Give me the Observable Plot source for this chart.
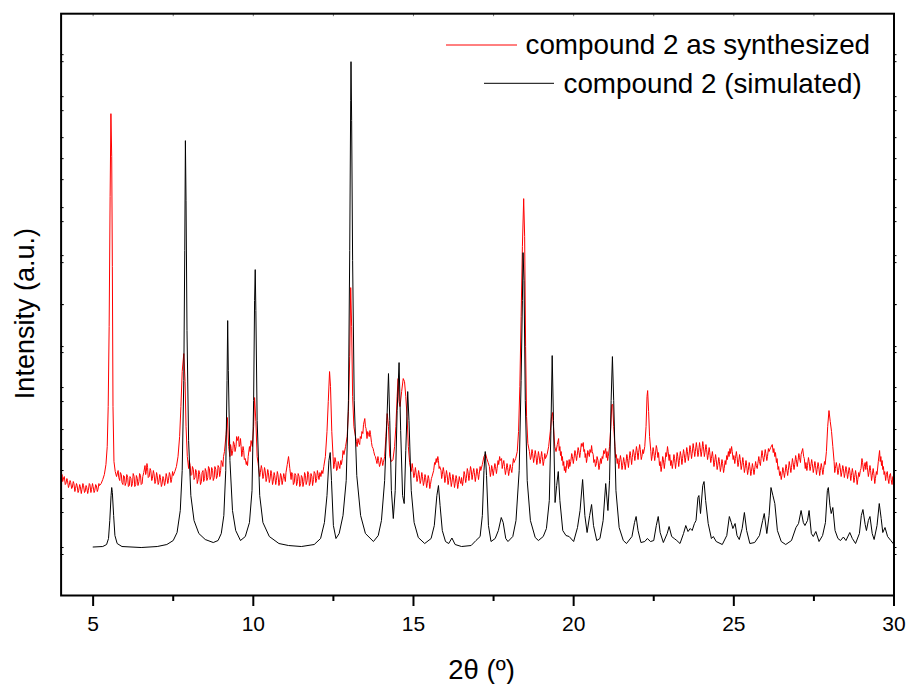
<!DOCTYPE html>
<html><head><meta charset="utf-8">
<script src="https://cdn.jsdelivr.net/npm/d3@7"></script>
<script src="https://cdn.jsdelivr.net/npm/@observablehq/plot@0.6"></script>
<style>body{margin:0;background:#fff}#chart{width:909px;height:684px}</style>
</head><body><div id="chart"></div>
<script>
const xMajorTicks = [5, 10, 15, 20, 25, 30];
const xMinorTicks = [7.5, 12.5, 17.5, 22.5, 27.5];
const yTicksExp = [42, 84, 126, 167, 209, 250, 292, 334, 375, 417, 459, 500, 542];
const yTicksSim = [49, 98, 147, 195, 244, 292, 341, 389, 438, 486, 535];
const seriesNames = ["compound 2 as synthesized", "compound 2 (simulated)"];
const seriesColors = ["#ff0000", "#000000"];
const xLabel = "2θ (º)";
const yLabel = "Intensity (a.u.)";

// experimental pattern: [2θ, intensity]
const expData = [
[4.00,118],[4.03,122],[4.05,115],[4.08,119],[4.10,120],[4.13,112],[4.15,113],[4.18,118],[4.20,116],[4.23,109],[4.25,111],[4.28,116],[4.30,114],[4.33,108],[4.35,109],[4.38,115],[4.40,113],[4.43,105],[4.45,108],[4.48,113],
[4.50,111],[4.53,104],[4.55,106],[4.58,112],[4.60,110],[4.63,103],[4.65,107],[4.68,113],[4.70,111],[4.73,104],[4.75,105],[4.78,111],[4.80,109],[4.83,103],[4.85,106],[4.88,113],[4.90,112],[4.93,104],[4.95,107],[4.98,113],
[5.00,110],[5.03,104],[5.05,106],[5.08,112],[5.10,111],[5.13,105],[5.15,107],[5.18,113],[5.20,111],[5.25,113],[5.30,117],[5.35,122],[5.40,132],[5.44,150],
[5.47,190],[5.50,270],[5.53,400],[5.555,483],[5.58,440],[5.60,330],[5.62,190],[5.65,135],[5.69,125],[5.73,120],
[5.78,126],[5.80,119],[5.83,116],[5.85,124],[5.88,122],[5.90,114],[5.93,112],[5.95,121],[5.98,120],[6.00,111],[6.03,114],[6.05,122],[6.08,119],[6.10,110],[6.13,111],[6.15,120],[6.18,118],[6.20,110],[6.23,113],
[6.25,123],[6.28,120],[6.30,110],[6.33,112],[6.35,121],[6.38,118],[6.40,111],[6.43,115],[6.45,123],[6.48,121],[6.50,112],[6.53,113],[6.55,120],[6.58,124],[6.62,131],[6.64,122],[6.66,125],[6.68,133],[6.70,129],
[6.72,119],[6.75,120],[6.78,128],[6.80,126],[6.83,116],[6.85,118],[6.88,126],[6.90,123],[6.93,113],[6.95,115],[6.98,124],[7.00,121],[7.03,112],[7.05,114],[7.08,122],[7.10,119],[7.13,110],[7.15,112],[7.18,120],[7.20,118],
[7.23,111],[7.25,114],[7.28,123],[7.30,120],[7.33,113],[7.35,116],[7.38,124],[7.40,122],[7.43,114],[7.45,117],[7.48,125],[7.50,121],[7.55,125],[7.60,130],[7.65,140],[7.70,160],
[7.74,190],[7.78,225],[7.83,243],[7.87,215],[7.90,170],[7.94,140],[7.98,128],[8.00,136],[8.03,131],[8.05,121],[8.08,122],[8.10,130],[8.13,127],
[8.15,117],[8.18,119],[8.20,127],[8.23,124],[8.25,113],[8.28,117],[8.30,126],[8.33,122],[8.35,112],[8.38,115],[8.40,124],[8.43,126],[8.45,115],[8.48,118],[8.50,128],[8.53,125],[8.55,116],[8.58,119],[8.60,130],[8.63,128],
[8.65,117],[8.68,120],[8.70,129],[8.73,126],[8.75,116],[8.78,119],[8.80,130],[8.83,127],[8.85,118],[8.88,121],[8.90,131],[8.93,129],[8.95,120],[8.98,126],[9.00,136],[9.03,134],[9.05,130],[9.07,140],[9.10,145],
[9.15,162],[9.19,179],[9.23,150],[9.27,140],[9.29,152],[9.31,148],[9.33,141],[9.36,146],[9.38,155],[9.41,152],[9.43,145],[9.46,150],[9.48,160],[9.50,156],[9.54,160],
[9.56,150],[9.58,152],[9.60,158],[9.62,150],[9.64,140],[9.66,144],[9.68,150],[9.70,146],[9.72,137],[9.75,138],[9.78,132],[9.80,135],[9.82,131],[9.84,140],[9.88,150],[9.90,145],[9.93,156],[9.97,150],
[10.01,170],[10.04,199],[10.08,175],[10.12,140],[10.15,133],[10.17,128],[10.20,120],[10.22,124],[10.25,131],[10.27,128],[10.30,118],[10.32,120],[10.35,129],[10.37,126],[10.40,115],[10.42,118],
[10.45,127],[10.47,124],[10.50,114],[10.52,117],[10.55,126],[10.57,123],[10.60,112],[10.62,115],[10.65,124],[10.67,121],[10.70,112],[10.72,116],[10.75,125],[10.77,122],[10.80,111],[10.82,114],[10.85,123],[10.87,121],[10.90,112],[10.92,116],
[10.95,123],[10.97,120],[11.00,115],[11.02,124],[11.06,132],[11.10,140],[11.14,128],[11.18,117],[11.20,124],[11.23,122],[11.25,112],[11.28,114],[11.30,123],[11.33,121],[11.35,111],[11.38,115],
[11.40,123],[11.43,120],[11.45,110],[11.48,113],[11.50,121],[11.53,119],[11.55,110],[11.58,115],[11.60,124],[11.63,121],[11.65,112],[11.68,116],[11.70,125],[11.73,122],[11.75,111],[11.78,114],[11.80,123],[11.83,120],[11.85,111],[11.88,117],
[11.90,125],[11.93,123],[11.95,114],[11.98,118],[12.00,126],[12.03,121],[12.05,117],[12.08,124],[12.11,120],[12.14,126],[12.17,123],[12.20,130],[12.25,140],[12.30,165],[12.34,195],[12.38,225],
[12.41,210],[12.45,165],[12.49,140],[12.51,128],[12.53,132],[12.55,139],[12.58,134],[12.60,126],[12.63,128],[12.65,135],[12.68,131],[12.70,128],[12.73,136],[12.75,132],[12.78,138],[12.80,146],[12.83,142],
[12.88,150],[12.93,160],[12.97,185],[13.01,240],[13.04,309],[13.07,270],[13.10,200],[13.14,170],[13.19,160],[13.22,155],[13.24,150],
[13.27,158],[13.29,154],[13.32,152],[13.34,160],[13.37,158],[13.39,165],[13.42,163],[13.44,172],[13.48,178],[13.50,170],[13.52,168],[13.55,158],[13.57,165],[13.60,162],[13.62,160],[13.64,166],[13.66,162],[13.69,154],[13.71,150],
[13.74,148],[13.76,145],[13.79,141],[13.81,140],[13.84,136],[13.86,133],[13.89,140],[13.91,136],[13.94,130],[13.96,132],[13.99,139],[14.01,137],[14.04,131],[14.06,134],[14.10,140],[14.14,160],[14.18,183],
[14.22,170],[14.26,140],[14.31,135],[14.36,137],[14.41,150],[14.45,170],[14.49,200],[14.52,218],[14.55,195],[14.58,190],
[14.63,205],[14.68,218],[14.72,215],[14.76,200],[14.80,180],[14.84,150],[14.88,134],[14.91,128],[14.93,125],[14.96,133],[14.98,128],[15.01,119],[15.03,121],
[15.06,129],[15.08,124],[15.11,115],[15.13,118],[15.16,126],[15.18,122],[15.21,113],[15.23,116],[15.26,124],[15.28,120],[15.31,111],[15.33,114],[15.36,122],[15.38,119],[15.41,109],[15.43,113],[15.46,121],[15.48,118],[15.51,108],[15.53,112],
[15.56,118],[15.58,120],[15.63,126],[15.66,134],[15.68,132],[15.71,138],[15.73,134],[15.76,140],[15.78,136],[15.80,128],[15.82,130],[15.86,126],[15.88,118],[15.90,122],[15.93,129],[15.95,125],[15.98,114],[16.00,118],
[16.03,126],[16.05,122],[16.08,112],[16.10,116],[16.13,124],[16.15,120],[16.18,110],[16.20,114],[16.23,122],[16.25,119],[16.28,109],[16.30,113],[16.33,121],[16.35,118],[16.38,108],[16.40,112],[16.43,120],[16.45,116],[16.48,113],[16.50,119],
[16.53,111],[16.55,115],[16.58,125],[16.60,122],[16.63,114],[16.65,118],[16.68,128],[16.70,125],[16.73,116],[16.75,121],[16.78,130],[16.80,127],[16.83,117],[16.85,122],[16.88,128],[16.90,124],[16.93,115],[16.95,120],[16.98,128],[17.00,125],
[17.03,117],[17.05,122],[17.08,130],[17.10,126],[17.15,132],[17.20,140],[17.25,143],[17.29,138],[17.33,134],[17.37,130],[17.40,120],[17.42,124],[17.44,131],[17.46,128],
[17.49,121],[17.51,126],[17.54,133],[17.56,130],[17.59,123],[17.61,128],[17.64,136],[17.66,132],[17.69,140],[17.71,136],[17.75,138],[17.77,128],[17.79,132],[17.82,136],[17.84,130],[17.87,122],[17.89,126],[17.92,133],[17.94,129],
[17.97,121],[17.99,125],[18.02,132],[18.04,128],[18.07,124],[18.09,130],[18.12,138],[18.14,134],[18.19,138],[18.24,145],[18.28,165],[18.32,210],[18.36,280],[18.40,350],
[18.44,398],[18.47,360],[18.50,250],[18.53,180],[18.57,153],[18.62,145],[18.65,137],[18.67,139],[18.70,147],[18.72,143],[18.75,134],[18.77,138],[18.80,146],[18.82,142],
[18.85,132],[18.87,136],[18.90,145],[18.92,141],[18.95,133],[18.97,137],[19.00,145],[19.02,140],[19.05,131],[19.07,135],[19.10,143],[19.12,138],[19.17,142],[19.22,150],[19.27,165],[19.31,180],
[19.34,184],[19.37,170],[19.41,150],[19.45,145],[19.49,152],[19.53,158],[19.55,146],[19.57,150],[19.59,141],[19.61,145],[19.63,136],[19.65,140],[19.67,131],[19.69,135],
[19.71,126],[19.73,130],[19.75,124],[19.77,128],[19.79,136],[19.81,134],[19.84,128],[19.86,137],[19.88,130],[19.91,135],[19.94,143],[19.96,140],[19.99,133],[20.01,138],[20.04,146],[20.06,143],[20.09,136],[20.11,141],[20.14,149],[20.16,146],
[20.19,139],[20.21,144],[20.24,153],[20.26,150],[20.30,154],[20.32,145],[20.34,147],[20.36,139],[20.38,143],[20.40,134],[20.42,138],[20.44,146],[20.46,144],[20.49,140],[20.51,147],[20.54,144],[20.56,151],[20.58,145],[20.61,142],
[20.63,134],[20.66,137],[20.68,130],[20.71,133],[20.73,140],[20.76,136],[20.79,127],[20.81,131],[20.84,138],[20.86,133],[20.89,140],[20.91,138],[20.94,146],[20.96,143],[21.00,148],[21.02,139],[21.04,145],[21.06,136],[21.08,140],
[21.12,150],[21.16,170],[21.19,192],[21.22,192],[21.25,170],[21.29,150],[21.31,139],[21.33,142],[21.36,133],[21.38,138],[21.41,128],[21.43,134],[21.46,141],[21.48,137],
[21.51,127],[21.53,131],[21.56,139],[21.58,135],[21.61,127],[21.63,133],[21.66,142],[21.68,138],[21.71,129],[21.73,136],[21.76,145],[21.78,141],[21.81,132],[21.83,139],[21.86,147],[21.88,144],[21.91,136],[21.93,141],[21.96,150],[21.98,146],
[22.01,137],[22.03,144],[22.06,152],[22.08,147],[22.11,137],[22.13,140],[22.16,147],[22.18,143],[22.22,150],[22.26,170],[22.29,200],[22.31,206],[22.34,185],[22.37,160],
[22.41,145],[22.43,136],[22.45,140],[22.48,149],[22.50,145],[22.53,136],[22.55,141],[22.58,151],[22.60,148],[22.63,139],[22.65,144],[22.68,131],[22.70,135],[22.73,125],[22.75,130],[22.78,140],[22.80,137],[22.83,128],[22.85,134],
[22.88,144],[22.90,140],[22.93,150],[22.95,145],[22.98,136],[23.00,142],[23.03,131],[23.05,136],[23.08,128],[23.10,133],[23.13,142],[23.15,138],[23.18,128],[23.20,134],[23.23,144],[23.25,140],[23.28,130],[23.30,136],[23.33,145],[23.35,141],
[23.38,132],[23.40,138],[23.43,147],[23.45,143],[23.48,134],[23.50,139],[23.53,149],[23.55,145],[23.58,136],[23.60,141],[23.63,151],[23.65,147],[23.68,138],[23.70,143],[23.73,153],[23.75,148],[23.78,140],[23.80,145],[23.83,154],[23.85,149],
[23.88,140],[23.90,144],[23.93,154],[23.95,149],[23.98,140],[24.00,145],[24.03,155],[24.05,150],[24.08,140],[24.10,144],[24.13,152],[24.15,147],[24.18,137],[24.20,141],[24.23,149],[24.25,144],[24.28,134],[24.30,138],[24.33,145],[24.35,140],
[24.38,130],[24.40,134],[24.43,142],[24.45,137],[24.48,127],[24.50,131],[24.53,139],[24.55,135],[24.58,125],[24.60,129],[24.63,137],[24.65,133],[24.68,124],[24.70,128],[24.73,136],[24.75,132],[24.78,141],[24.80,137],[24.83,145],[24.85,140],
[24.88,148],[24.90,143],[24.93,150],[24.95,145],[24.98,137],[25.00,141],[25.03,133],[25.05,138],[25.08,145],[25.10,140],[25.13,130],[25.15,134],[25.18,142],[25.20,137],[25.23,127],[25.25,131],[25.28,139],[25.30,134],[25.33,124],[25.35,128],
[25.38,136],[25.40,131],[25.43,122],[25.45,126],[25.48,134],[25.50,130],[25.53,121],[25.55,125],[25.58,133],[25.60,129],[25.63,122],[25.65,127],[25.68,135],[25.70,131],[25.73,128],[25.75,133],[25.78,140],[25.80,135],[25.83,131],[25.85,138],
[25.88,146],[25.90,141],[25.93,135],[25.95,139],[25.98,147],[26.00,143],[26.03,136],[26.05,140],[26.08,148],[26.10,145],[26.15,149],[26.20,152],[26.23,144],[26.25,148],[26.28,140],[26.30,144],[26.33,134],[26.35,138],
[26.38,127],[26.40,130],[26.43,121],[26.45,125],[26.48,117],[26.50,121],[26.53,129],[26.55,126],[26.58,119],[26.60,124],[26.63,132],[26.65,128],[26.68,121],[26.70,126],[26.73,135],[26.75,131],[26.78,124],[26.80,129],[26.83,138],[26.85,134],
[26.88,127],[26.90,132],[26.93,141],[26.95,137],[26.98,130],[27.00,135],[27.03,143],[27.05,139],[27.08,134],[27.10,142],[27.15,148],[27.18,140],[27.20,138],[27.23,128],[27.25,134],[27.28,126],[27.30,131],[27.33,139],[27.35,135],
[27.38,126],[27.40,130],[27.43,137],[27.45,133],[27.48,124],[27.50,128],[27.53,135],[27.55,131],[27.58,122],[27.60,127],[27.63,134],[27.65,130],[27.68,121],[27.70,126],[27.73,133],[27.75,129],[27.78,122],[27.80,127],[27.83,135],[27.85,132],
[27.89,145],[27.93,170],[27.97,186],[28.01,175],[28.05,165],[28.09,150],[28.13,135],[28.15,124],[28.17,128],[28.20,134],[28.22,130],[28.25,122],[28.27,126],
[28.30,133],[28.32,129],[28.35,120],[28.37,124],[28.40,131],[28.42,128],[28.45,119],[28.47,123],[28.50,130],[28.52,127],[28.55,118],[28.57,122],[28.60,129],[28.62,126],[28.65,116],[28.67,121],[28.70,128],[28.72,124],[28.75,114],[28.77,119],
[28.80,126],[28.82,122],[28.85,112],[28.87,117],[28.90,124],[28.92,120],[28.95,126],[28.97,128],[29.00,138],[29.02,134],[29.05,125],[29.07,130],[29.10,134],[29.12,127],[29.15,135],[29.17,129],[29.20,120],[29.22,124],[29.25,131],[29.27,126],
[29.30,116],[29.32,121],[29.35,128],[29.37,123],[29.40,113],[29.42,118],[29.45,125],[29.47,122],[29.51,135],[29.55,146],[29.57,135],[29.59,140],[29.61,131],[29.63,136],[29.65,127],[29.67,130],[29.69,122],[29.71,125],
[29.74,116],[29.76,122],[29.79,125],[29.81,118],[29.84,113],[29.86,121],[29.89,123],[29.91,117],[29.94,112],[29.96,120],[30.00,119]
];

// simulated pattern: [2θ, intensity]
const simData = [
[5.00,49.5],[5.30,50],[5.42,52],[5.48,58],[5.52,76],[5.56,101],[5.58,109],[5.60,104],[5.64,81],[5.68,61],
[5.75,53],[5.90,50],[6.5,49],[7.0,50],[7.3,52],[7.5,56],[7.62,64],[7.72,86],[7.78,126],[7.83,216],
[7.86,346],[7.88,456],[7.90,396],[7.93,266],[7.98,156],[8.05,101],[8.15,76],[8.3,63],[8.5,57],[8.75,54],
[8.9,56],[9.0,63],[9.08,81],[9.14,126],[9.18,216],[9.20,276],[9.22,226],[9.27,136],[9.35,86],[9.45,66],
[9.6,56],[9.75,60],[9.88,74],[9.96,106],[10.01,196],[10.04,296],[10.06,327],[10.08,286],[10.12,176],[10.2,101],
[10.3,74],[10.5,60],[10.8,53],[11.1,51],[11.5,50],[11.9,52],[12.1,58],[12.22,74],[12.3,101],[12.36,136],
[12.40,144],[12.44,116],[12.50,71],[12.58,58],[12.68,63],[12.8,81],[12.9,116],[12.97,196],[13.01,346],[13.04,496],
[13.05,535],[13.07,476],[13.10,336],[13.15,196],[13.23,121],[13.35,81],[13.5,63],[13.75,55],[13.9,61],[14.0,76],
[14.1,116],[14.17,176],[14.22,223],[14.26,176],[14.31,106],[14.37,78],[14.43,106],[14.49,186],[14.55,234],[14.60,166],
[14.66,101],[14.71,93],[14.76,146],[14.82,205],[14.86,176],[14.93,106],[15.02,74],[15.15,59],[15.35,53],[15.55,58],
[15.65,71],[15.73,101],[15.78,111],[15.83,91],[15.9,66],[16.0,55],[16.1,53],[16.2,58.5],[16.3,52],[16.5,50],
[16.8,51],[16.95,56],[17.08,60],[17.15,81],[17.2,126],[17.24,145],[17.28,121],[17.34,71],[17.42,55],[17.55,58],
[17.65,66],[17.74,79],[17.8,74],[17.88,58],[17.95,55],[18.1,60],[18.2,76],[18.3,126],[18.36,216],[18.40,296],
[18.42,344],[18.45,316],[18.49,196],[18.55,116],[18.65,76],[18.8,59],[18.9,56],[19.05,60],[19.15,68],[19.24,96],
[19.29,166],[19.33,241],[19.37,176],[19.42,94],[19.47,111],[19.52,125],[19.57,96],[19.66,66],[19.76,61],[19.86,60],
[20.0,55],[20.12,69],[20.2,86],[20.28,117],[20.35,81],[20.42,64],[20.5,81],[20.56,92],[20.62,71],[20.72,56],
[20.82,58],[20.92,76],[21.0,113],[21.07,86],[21.12,116],[21.17,196],[21.21,240],[21.25,196],[21.32,106],[21.42,69],
[21.55,56],[21.65,53],[21.82,60],[21.9,74],[21.95,80],[22.01,66],[22.1,54],[22.22,55],[22.3,58],[22.4,55],
[22.5,56],[22.58,71],[22.64,80],[22.7,64],[22.8,54],[22.92,63],[22.98,70],[23.06,60],[23.14,58],[23.22,56],
[23.32,53],[23.43,63],[23.5,71],[23.57,65],[23.64,68],[23.7,66],[23.77,73],[23.82,76],[23.88,99],[23.91,101],
[23.96,83],[24.03,111],[24.07,115],[24.12,96],[24.2,73],[24.3,58],[24.36,60],[24.45,55],[24.64,52],[24.78,61],
[24.86,80],[24.92,74],[24.97,68],[25.04,73],[25.1,61],[25.17,57],[25.26,68],[25.33,84],[25.4,66],[25.5,53],
[25.65,54],[25.8,61],[25.9,76],[25.95,83],[26.03,63],[26.1,81],[26.16,109],[26.22,101],[26.28,93],[26.36,66],
[26.48,55],[26.62,52],[26.8,56],[26.94,69],[27.02,73],[27.1,86],[27.17,74],[27.22,71],[27.3,76],[27.35,86],
[27.42,63],[27.48,60],[27.56,65],[27.66,55],[27.77,61],[27.86,74],[27.92,106],[27.95,109],[28.0,91],[28.04,83],
[28.09,89],[28.16,66],[28.25,58],[28.33,56],[28.42,59.5],[28.5,56],[28.62,64],[28.7,58],[28.8,53],[28.92,63],
[28.98,81],[29.03,87],[29.1,72],[29.14,66],[29.2,76],[29.25,80],[29.32,63],[29.38,57],[29.47,71],[29.54,93],
[29.6,78],[29.65,64],[29.72,69],[29.8,60],[29.9,56],[30.0,52]
];

const W = 909, H = 684;
const mL = 60.6, mR = 15.5, mT = 13.2, mB = 89;
const frameW = W - mL - mR, frameH = H - mT - mB;
const font = "'Liberation Sans', Arial, Helvetica, sans-serif";

const svg = Plot.plot({
  width: W, height: H,
  marginLeft: mL, marginRight: mR, marginTop: mT, marginBottom: mB,
  style: {fontFamily: font, color: "#000", background: "#fff", overflow: "visible"},
  x: {domain: [4, 30], axis: null},
  y: {domain: [1, 583], axis: null},
  marks: [
    Plot.line(expData, {x: d => d[0], y: d => d[1], stroke: seriesColors[0], strokeWidth: 1}),
    Plot.line(simData, {x: d => d[0], y: d => d[1], stroke: seriesColors[1], strokeWidth: 1}),
    // bottom axis
    Plot.axisX(xMajorTicks, {anchor: "bottom", tickSize: 11, tickPadding: 10, fontSize: 21, strokeWidth: 2, label: null}),
    Plot.tickX(xMinorTicks, {x: d => d, insetTop: frameH, insetBottom: -6, stroke: "#000", strokeWidth: 2}),
    // top inner ticks
    Plot.tickX([...xMajorTicks, ...xMinorTicks], {x: d => d, insetBottom: frameH - 3, stroke: "#777", strokeWidth: 1}),
    // left inner ticks
    Plot.tickY([...yTicksExp, ...yTicksSim], {y: d => d, insetRight: frameW - 3, stroke: "#000", strokeWidth: 1}),
    // right outer ticks
    Plot.tickY([...yTicksExp, ...yTicksSim], {y: d => d, insetLeft: frameW, insetRight: -3, stroke: "#000", strokeWidth: 1}),
    Plot.frame({stroke: "#000", strokeWidth: 2}),
    // axis titles
    Plot.text([xLabel], {frameAnchor: "bottom", dx: 4, dy: 83, lineAnchor: "bottom", fontSize: 27.5, fill: "#000"}),
    Plot.text([yLabel], {frameAnchor: "left", dx: -27.6, dy: 9, rotate: -90, textAnchor: "middle", lineAnchor: "bottom", fontSize: 27, fill: "#000"}),
    // legend labels
    Plot.text([seriesNames[0]], {frameAnchor: "top-left", dx: 525 - mL, dy: 45 - mT, textAnchor: "start", lineAnchor: "middle", fontSize: 27.8, fill: "#000"}),
    Plot.text([seriesNames[1]], {frameAnchor: "top-left", dx: 563 - mL, dy: 83.3 - mT, textAnchor: "start", lineAnchor: "middle", fontSize: 27.8, fill: "#000"})
  ]
});

// legend swatches
const g = d3.select(svg).append("g");
g.append("line").attr("x1", 446).attr("x2", 517).attr("y1", 45).attr("y2", 45)
  .attr("stroke", seriesColors[0]).attr("stroke-width", 1);
g.append("line").attr("x1", 484).attr("x2", 554).attr("y1", 83.3).attr("y2", 83.3)
  .attr("stroke", seriesColors[1]).attr("stroke-width", 1);

document.getElementById("chart").appendChild(svg);
</script>
</body></html>
